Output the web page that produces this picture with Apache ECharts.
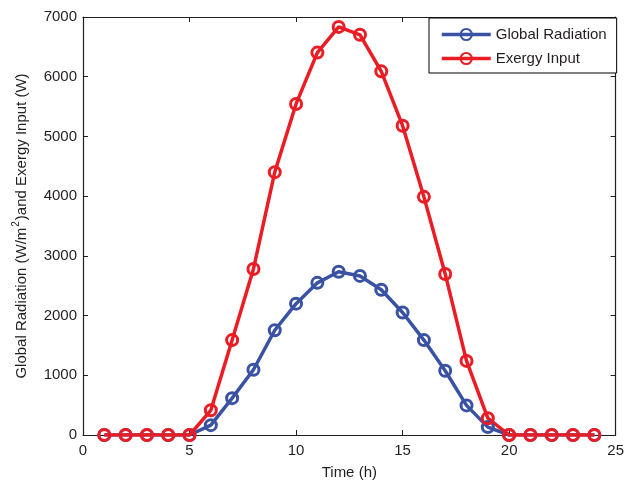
<!DOCTYPE html>
<html>
<head>
<meta charset="utf-8">
<script src="https://cdn.jsdelivr.net/npm/echarts@6/dist/echarts.min.js"></script>
<style>
html,body{margin:0;padding:0;background:#fff;}
#chart{width:627px;height:485px;}
</style>
</head>
<body>
<div id="chart"></div>
<script>
const hours = [1,2,3,4,5,6,7,8,9,10,11,12,13,14,15,16,17,18,19,20,21,22,23,24];
const globalRadiation = [0,0,0,0,0,165,617,1092,1754,2200,2548,2735,2664,2432,2052,1589,1076,496,132,0,0,0,0,0];
const exergyInput = [0,0,0,0,0,414,1589,2780,4402,5544,6404,6834,6702,6090,5180,3988,2697,1241,281,0,0,0,0,0];
const xTicks = [0,5,10,15,20,25];
const yTicks = [0,1000,2000,3000,4000,5000,6000,7000];

const FONT = '"Liberation Sans", Arial, sans-serif';
const AXC = '#231f20';
const BLUE = '#3a52a3';
const RED = '#ec1c24';

const pairs = (ys) => hours.map((h, i) => [h, ys[i]]);

const chart = echarts.init(document.getElementById('chart'), null, {renderer: 'canvas'});
const baseX = {
  type: 'value', min: xTicks[0], max: xTicks[xTicks.length - 1], interval: 5,
  axisLine: {show: true, onZero: false, lineStyle: {color: AXC, width: 1.2}},
  axisTick: {show: true, inside: true, length: 5, lineStyle: {color: AXC}},
  splitLine: {show: false}
};
const baseY = {
  type: 'value', min: yTicks[0], max: yTicks[yTicks.length - 1], interval: 1000,
  axisLine: {show: true, onZero: false, lineStyle: {color: AXC, width: 1.2}},
  axisTick: {show: true, inside: true, length: 5, lineStyle: {color: AXC}},
  splitLine: {show: false}
};
const plain = (v) => String(v);
chart.setOption({
  animation: false,
  backgroundColor: '#fff',
  textStyle: {fontFamily: FONT},
  grid: {left: 83, top: 17, right: 4, bottom: 45, containLabel: false},
  legend: {
    orient: 'vertical', left: 429, top: 18,
    padding: [9, 10, 7, 11], itemGap: 9, itemWidth: 49, itemHeight: 14,
    backgroundColor: '#fff', borderColor: '#000', borderWidth: 1,
    lineStyle: {width: 3.5},
    textStyle: {fontFamily: FONT, fontSize: 15, color: '#231f20', padding: [0,0,0,0]},
    data: ['Global Radiation', 'Exergy Input']
  },
  xAxis: [
    Object.assign({}, baseX, {
      position: 'bottom', name: 'Time (h)', nameLocation: 'middle', nameGap: 30,
      nameTextStyle: {fontFamily: FONT, fontSize: 15, color: AXC},
      axisLabel: {show: true, fontFamily: FONT, fontSize: 15, color: AXC, margin: 8, formatter: plain}
    }),
    Object.assign({}, baseX, {position: 'top', axisLabel: {show: false}})
  ],
  yAxis: [
    Object.assign({}, baseY, {
      position: 'left', name: '{t|Global Radiation (W/m}{sup|2}{t|)and Exergy Input (W)}',
      nameLocation: 'middle', nameGap: 54,
      nameTextStyle: {
        fontFamily: FONT, fontSize: 15, color: AXC,
        rich: {
          t: {fontFamily: FONT, fontSize: 15, color: AXC, lineHeight: 18, verticalAlign: 'bottom'},
          sup: {fontFamily: FONT, fontSize: 10, color: AXC, lineHeight: 18, verticalAlign: 'top', padding: [0, 1, 0, 1]}
        }
      },
      axisLabel: {show: true, fontFamily: FONT, fontSize: 15, color: AXC, margin: 6, formatter: plain}
    }),
    Object.assign({}, baseY, {position: 'right', axisLabel: {show: false}})
  ],
  series: [
    {
      name: 'Global Radiation', type: 'line', data: pairs(globalRadiation),
      symbol: 'circle', symbolSize: 11,
      lineStyle: {color: BLUE, width: 3.5},
      itemStyle: {color: 'rgba(0,0,0,0)', borderColor: BLUE, borderWidth: 3}
    },
    {
      name: 'Exergy Input', type: 'line', data: pairs(exergyInput),
      symbol: 'circle', symbolSize: 11,
      lineStyle: {color: RED, width: 3.5},
      itemStyle: {color: 'rgba(0,0,0,0)', borderColor: RED, borderWidth: 3}
    }
  ]
});
</script>
</body>
</html>
